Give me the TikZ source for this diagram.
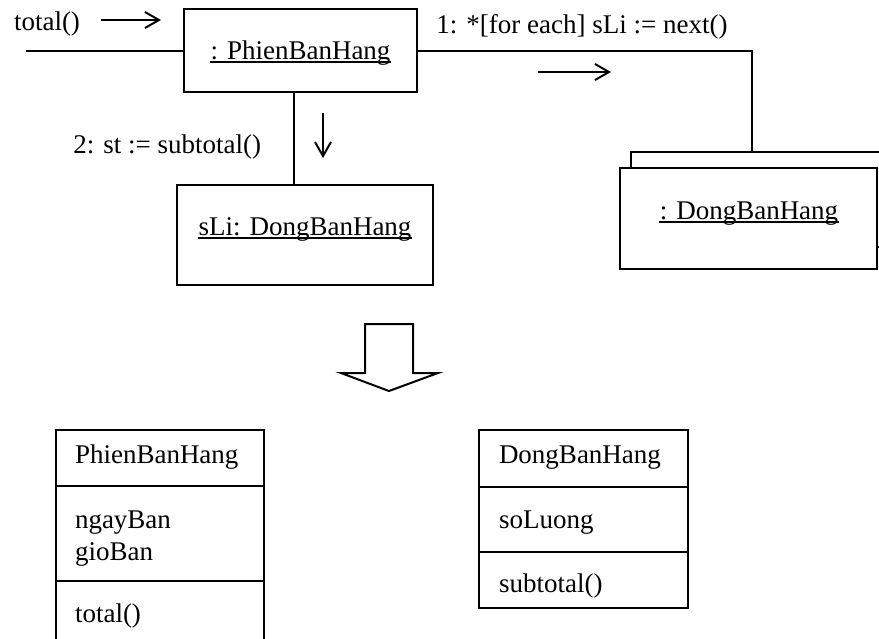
\documentclass[tikz,border=0pt]{standalone}
\usepackage{fontspec}
\setmainfont{Liberation Serif}
\usetikzlibrary{arrows.meta,calc}
\begin{document}
\begin{tikzpicture}[x=1pt,y=-1pt,
  line width=2pt,
  every node/.style={font=\fontsize{27}{32}\selectfont, inner sep=0pt},
  box/.style={draw, rectangle, line width=2pt, fill=white},
  txt/.style={anchor=base},
  ltxt/.style={anchor=base west},
  msg/.style={-{Straight Barb[length=14pt,width=16pt,line width=2pt]}, line width=2pt},
  ul/.style={line width=1.6pt}]
\clip (0,0) rectangle (879,638);
\fill[white] (0,0) rectangle (879,638);

% ---- collaboration diagram ----
\node[box, minimum width=233pt, minimum height=83pt] (pbh) at (300.5,50.5) {};
\node[txt] (pbht) at (300.5,59) {: PhienBanHang};
\draw[ul] ($(pbht.base west)+(0,3)$) -- ($(pbht.base east)+(0,3)$);

\node[box, minimum width=256pt, minimum height=100pt] (sli) at (305,235) {};
\node[txt] (slit) at (305,235) {sLi: DongBanHang};
\draw[ul] ($(slit.base west)+(0,3)$) -- ($(slit.base east)+(0,3)$);

% multi-object: back sheet and front sheet
\node[box, minimum width=259pt, minimum height=95pt] (back) at (760.5,199.5) {};
\node[box, minimum width=257pt, minimum height=101pt] (dbh) at (748.5,218.5) {};
\node[txt] (dbht) at (749,219) {: DongBanHang};
\draw[ul] ($(dbht.base west)+(0,3)$) -- ($(dbht.base east)+(0,3)$);

% links
\coordinate (start) at (26,50.5);
\coordinate (vx) at (294,0);
\coordinate (hx) at (752,0);
\draw (start) -- (pbh.west);
\draw (pbh.east) -| (hx |- back.north);
\draw (vx |- pbh.south) -- (vx |- sli.north);

% messages
\node[ltxt] (m0) at (13,30) {total()};
\coordinate (m0a) at (101,20);
\coordinate (m0b) at (161,20);
\draw[msg] (m0a) -- (m0b);

\node[txt] (m1) at (582,33) {1: *[for each] sLi := next()};
\coordinate (m1a) at (538,72);
\coordinate (m1b) at (611,72);
\draw[msg] (m1a) -- (m1b);

\node[anchor=base east] (m2) at (262,153) {2: st := subtotal()};
\coordinate (m2a) at (323,113);
\coordinate (m2b) at (323,158);
\draw[msg] (m2a) -- (m2b);

% ---- block arrow ----
\draw[line join=miter] (365,324) -- (413,324) -- (413,373) -- (438,373)
  -- (389,391) -- (341,373) -- (365,373) -- cycle;

% ---- class PhienBanHang ----
\node[box, minimum width=208pt, minimum height=231pt, anchor=north west] (cpbh) at (55,429) {};
\draw (55,486) -- (263,486);
\draw (55,581) -- (263,581);
\node[ltxt] (cpbh1) at (74,463) {PhienBanHang};
\node[ltxt] (cpbh2) at (74,528) {ngayBan};
\node[ltxt] (cpbh3) at (74,560) {gioBan};
\node[ltxt] (cpbh4) at (74,622) {total()};

% ---- class DongBanHang ----
\node[box, minimum width=209pt, minimum height=178pt, anchor=north west] (cdbh) at (478,429) {};
\draw (478,487) -- (687,487);
\draw (478,552) -- (687,552);
\node[ltxt] (cdbh1) at (498,463) {DongBanHang};
\node[ltxt] (cdbh2) at (498,528) {soLuong};
\node[ltxt] (cdbh3) at (498,592) {subtotal()};
\end{tikzpicture}
\end{document}
